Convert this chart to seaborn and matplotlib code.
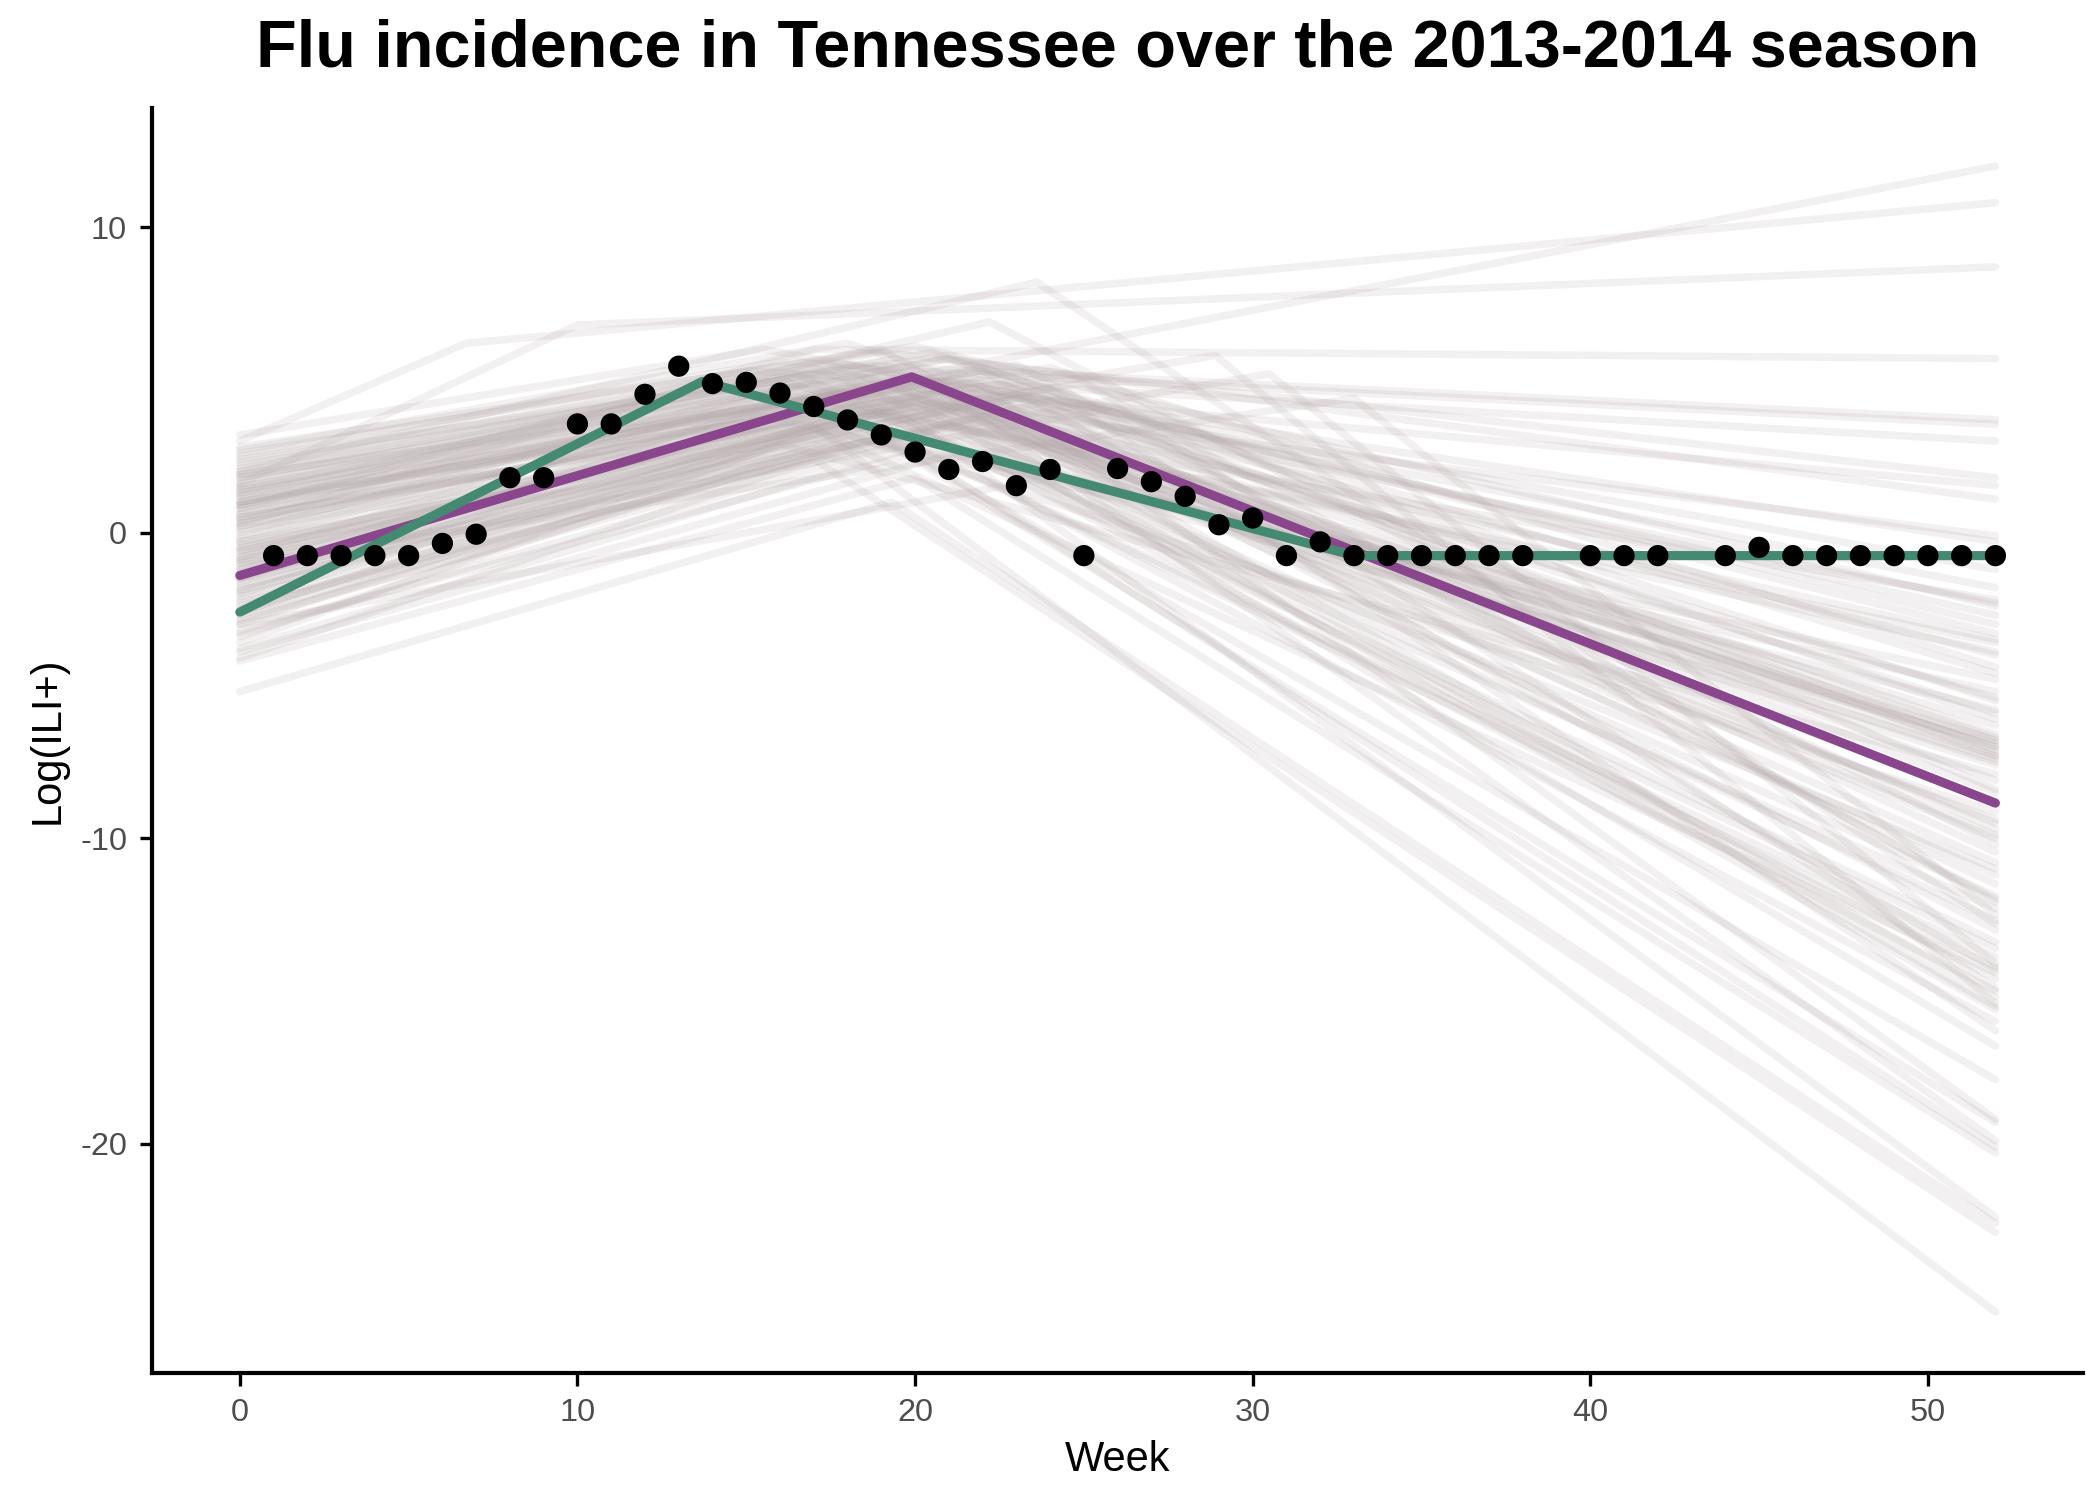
import numpy as np
import pandas as pd
import matplotlib
matplotlib.use("Agg")
import matplotlib.pyplot as plt
import seaborn as sns

# ── observed weekly data (log ILI+) ─────────────────────────
obs_week = [1, 2, 3, 4, 5, 6, 7, 8, 9, 10, 11, 12, 13, 14, 15, 16, 17, 18, 19, 20,
            21, 22, 23, 24, 25, 26, 27, 28, 29, 30, 31, 32, 33, 34, 35, 36, 37, 38,
            40, 41, 42, 44, 45, 46, 47, 48, 49, 50, 51, 52]
obs_value = [-0.75, -0.75, -0.75, -0.75, -0.75, -0.35, -0.05, 1.8, 1.8, 3.56,
             3.56, 4.53, 5.45, 4.88, 4.92, 4.57, 4.13, 3.69, 3.2, 2.64,
             2.07, 2.33, 1.54, 2.07, -0.75, 2.1, 1.67, 1.19, 0.26, 0.48,
             -0.75, -0.3, -0.75, -0.75, -0.75, -0.75, -0.75, -0.75,
             -0.75, -0.75, -0.75, -0.75, -0.48, -0.75, -0.75, -0.75, -0.75, -0.75, -0.75, -0.75]

# ── fitted curves ───────────────────────────────────────────
mean_week = [0, 19.9, 52]
mean_value = [-1.4, 5.1, -8.85]

best_week = [0, 13.7, 33, 52]
best_value = [-2.6, 4.95, -0.75, -0.75]

# ── posterior draws: start (week 0), breakpoint, end (week 52) ──
draw_start = [3.0, 1.0, 1.6, 0.8, 2.0, 1.2, 0.5, -0.5, -1.0, -5.2,
              -4.1, -1.5, 2.5, 1.8, 0.3, 2.2, -0.8, 1.5, 0.0, -1.5,
              1.0, -2.0, 2.8, -0.3, 0.9, -2.6, 1.9, -1.2, 0.4, -3.0,
              2.4, -0.9, 1.3, -1.8, 0.6, -2.3, 2.0, -0.6, 1.1, -3.4,
              0.2, -1.4, 1.7, -2.8, 0.7, -0.2, -3.8, 1.4, -1.1, 2.6,
              -2.1, 0.1, -0.7, -2.5, 1.0, -1.9, 0.5, -3.2, -4.2, -0.4,
              1.6, -1.6, 0.9, -2.2, 2.1, -0.1, -1.3, 1.3, -2.7, 0.3,
              -0.9, 1.8, -3.6, 0.8, -1.7, 2.3, -0.5, -2.9, 1.2, -1.0,
              -3.0, 0.6, -1.2, 1.9, -2.4, 0.2, -0.8, 1.4, -3.3, 2.7,
              -0.3, -1.9, 0.9, -2.6, 1.5, -0.6, 3.2, -3.9, 0.4, -1.5]
draw_break_week = [6.7, 17.5, 10.0, 17.0, 23.6, 22.2, 28.9, 30.5, 33.0, 19.3,
                   17.0, 17.0, 16.0, 18.0, 15.0, 19.0, 17.0, 21.0, 16.0, 19.0,
                   18.0, 17.0, 20.0, 22.0, 16.0, 19.0, 24.0, 15.0, 20.0, 18.0,
                   21.0, 23.0, 17.0, 20.0, 19.0, 22.0, 16.0, 21.0, 24.5, 18.0,
                   20.0, 23.0, 19.0, 21.0, 25.0, 18.0, 20.0, 22.0, 26.0, 19.0,
                   21.0, 24.0, 20.0, 19.0, 22.0, 18.5, 21.0, 20.0, 20.0, 19.5,
                   18.0, 20.0, 22.0, 17.5, 20.5, 19.0, 21.5, 23.0, 19.0, 20.5,
                   18.0, 21.0, 16.0, 19.5, 22.5, 17.0, 20.0, 18.5, 21.5, 19.0,
                   22.5, 18.5, 20.0, 17.5, 21.0, 19.5, 22.0, 16.5, 20.5, 18.0,
                   23.5, 19.0, 21.0, 17.0, 20.0, 22.0, 15.5, 21.5, 18.0, 24.0]
draw_break_value = [6.2, 4.6, 6.8, 6.0, 8.2, 6.9, 5.8, 5.2, 4.4, 1.0,
                    2.4, 3.5, 5.6, 5.4, 5.3, 5.9, 5.0, 5.7, 4.8, 5.2,
                    5.5, 4.2, 6.1, 5.0, 4.6, 4.0, 5.4, 3.9, 5.1, 3.6,
                    5.8, 4.5, 4.9, 4.3, 5.3, 3.8, 5.0, 4.7, 5.2, 3.2,
                    4.8, 4.4, 5.6, 3.5, 4.9, 4.6, 2.8, 5.3, 4.1, 6.0,
                    3.9, 4.7, 4.3, 3.1, 4.8, 3.4, 4.5, 2.6, 1.8, 4.0,
                    5.2, 4.4, 5.4, 3.7, 5.9, 4.9, 4.2, 5.5, 3.3, 4.8,
                    4.1, 5.7, 2.9, 5.0, 4.0, 5.4, 4.6, 3.0, 5.1, 4.5,
                    1.5, 4.9, 4.2, 5.5, 3.6, 4.7, 4.4, 5.2, 3.2, 6.2,
                    4.5, 3.8, 5.0, 3.4, 5.3, 4.6, 6.0, 2.7, 4.8, 4.3]
draw_end = [10.8, 12.0, 8.7, 5.7, -12.8, -10.2, -15.4, -14.1, -12.5, -22.6,
            -22.9, -25.5, 3.7, 3.55, 3.0, 1.8, 1.55, 1.1, -0.1, -0.3,
            -1.8, -2.2, -2.4, -3.3, -3.6, -3.9, -4.4, -4.8, -5.4, -5.8,
            -6.1, -6.6, -6.8, -7.0, -7.2, -7.3, -7.4, -8.1, -8.4, -9.15,
            -9.9, -10.45, -11.5, -11.9, -12.1, -13.4, -13.9, -14.3, -14.9, -15.2,
            -15.6, -16.3, -16.8, -17.9, -19.2, -19.3, -19.9, -20.1, -20.3, -22.4,
            -2.3, -3.5, -5.5, -6.9, -7.1, -6.8, -9.5, -12.0, -14.2, -15.5,
            -7.6, -4.6, -7.9, -10.8, -13.0, -9.4, -11.2, -5.2, -3.0, -14.6,
            -16.0, -6.3, -7.0, -8.8, -12.7, -10.0, -6.7, -13.6, -15.0, -5.9,
            -7.3, -11.0, -2.7, -14.4, -8.5, -4.0, -1.2, -12.3, -7.5, -9.7]

rows = []
for i in range(len(draw_start)):
    rows.append({"draw": i, "week": 0, "value": draw_start[i]})
    rows.append({"draw": i, "week": draw_break_week[i], "value": draw_break_value[i]})
    rows.append({"draw": i, "week": 52, "value": draw_end[i]})
draws = pd.DataFrame(rows)

obs = pd.DataFrame({"week": obs_week, "value": obs_value})
mean_df = pd.DataFrame({"week": mean_week, "value": mean_value})
best_df = pd.DataFrame({"week": best_week, "value": best_value})

# ── plot ────────────────────────────────────────────────────
sns.set_style("ticks")
plt.rcParams["font.family"] = ["Liberation Sans", "DejaVu Sans"]
plt.rcParams["axes.unicode_minus"] = False

fig = plt.figure(figsize=(7, 5), dpi=300)
ax = fig.add_axes([0.0724, 0.0847, 0.9196, 0.8433])

sns.lineplot(data=draws, x="week", y="value", units="draw", estimator=None,
             color="#b3a6a8", alpha=0.17, lw=1.8, ax=ax)
sns.lineplot(data=mean_df, x="week", y="value", color="#8a468c", lw=2.2, ax=ax)
sns.lineplot(data=best_df, x="week", y="value", color="#448a72", lw=2.2, ax=ax)
sns.scatterplot(data=obs, x="week", y="value", color="black", s=26,
                edgecolor="none", zorder=5, ax=ax)

ax.set_xlim(-2.6, 54.6)
ax.set_ylim(-27.5, 13.9)
ax.set_xticks([0, 10, 20, 30, 40, 50])
ax.set_yticks([-20, -10, 0, 10])
ax.tick_params(axis="both", labelsize=7.8, labelcolor="#4d4d4d", length=3,
               width=0.8, color="black", pad=3)
for side in ["left", "bottom"]:
    ax.spines[side].set_linewidth(1.0)
    ax.spines[side].set_color("black")
sns.despine(ax=ax)

ax.set_xlabel("Week", fontsize=10, color="black", labelpad=3)
ax.set_ylabel("Log(ILI+)", fontsize=10, color="black", labelpad=3)
ax.set_title("Flu incidence in Tennessee over the 2013-2014 season",
             fontsize=16, fontweight="bold", color="black", pad=10)

fig.savefig("out.png", dpi=300)
